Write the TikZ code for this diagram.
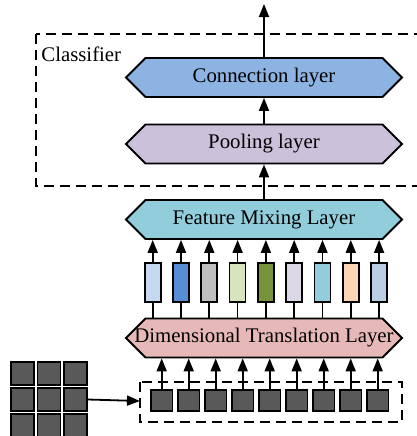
\documentclass[tikz,border=0pt]{standalone}
\usepackage{fontspec}
\setmainfont{Liberation Serif}
\usepackage{tikz}
\usetikzlibrary{arrows.meta,shapes.symbols}

\definecolor{connblue}{HTML}{8DB3E2}
\definecolor{poolpurple}{HTML}{CCC1DA}
\definecolor{mixcyan}{HTML}{92CDDC}
\definecolor{transpink}{HTML}{E6B9B8}
\definecolor{cellgray}{HTML}{595959}

\newcommand{\lyrtext}[1]{\makebox[118.5pt]{#1}}

\tikzset{
  layer/.style={shape=signal, signal to=west and east, signal pointer angle=90,
    draw=black, line width=0.9pt, minimum height=19.5pt,
    inner sep=0pt, font=\fontsize{10.4}{12}\selectfont},
  vecbar/.style={draw=black, line width=0.9pt, minimum width=8pt, minimum height=19.5pt, inner sep=0pt},
  cell/.style={draw=black, line width=0.9pt, fill=cellgray, minimum size=10.8pt, inner sep=0pt},
  upar/.style={line width=0.9pt, -{Triangle[length=6.5pt,width=5pt]}},
  dashbox/.style={line width=0.9pt, dash pattern=on 5pt off 3pt}
}

\begin{document}
\begin{tikzpicture}[x=0.5pt,y=-0.5pt]

\useasboundingbox (0,0) rectangle (417,436);

% classifier
\draw[dashbox] (36,34) rectangle (430,186);
\node[anchor=west, font=\fontsize{10.4}{12}\selectfont, inner sep=0pt] (clf) at (41,54) {Classifier};

\node[layer, fill=connblue] (conn) at (264,77.5) {\lyrtext{Connection layer}};
\node[layer, fill=poolpurple] (pool) at (264,144) {\lyrtext{Pooling layer}};
\node[layer, fill=mixcyan] (mix) at (264,219.5) {\lyrtext{Feature Mixing Layer}};
\node[layer, fill=transpink] (trans) at (264,338) {\lyrtext{Dimensional Translation Layer}};

\coordinate (out) at (264,4);

\draw[upar] (conn.north) -- (out);
\draw[upar] (pool.north) -- (conn.south);
\draw[upar] (mix.north) -- (pool.south);

% token vectors
\foreach \c [count=\i from 0] in {C6D9F1,558ED5,BFBFBF,D7E4BD,77933C,DDD8E6,93CDDD,FCD5B5,B9CDE5} {
  \definecolor{barcol}{HTML}{\c}
  \node[vecbar, fill=barcol] (bar\i) at (152.7+28.3*\i,282.5) {};
  \draw[upar] (bar\i.north) -- (bar\i.north |- mix.south);
  \draw[line width=0.9pt] (bar\i.south |- trans.north) -- (bar\i.south);
}

% patches
\draw[dashbox] (140,382) rectangle (402,422);
\foreach \i in {0,...,8} {
  \node[cell] (sq\i) at (161.7+27*\i,400.5) {};
  \draw[upar] (sq\i.north) -- (sq\i.north |- trans.south);
}

% input image
\foreach \r [count=\ri from 0] in {373.5,399.5,425.5}
  \foreach \x [count=\ci from 0] in {22.5,49,75.5}
    \node[cell, minimum size=11.5pt] (px\ri\ci) at (\x,\r) {};

\coordinate (boxin) at (140,401);
\draw[upar] (px12.east) -- (boxin);

\end{tikzpicture}
\end{document}
